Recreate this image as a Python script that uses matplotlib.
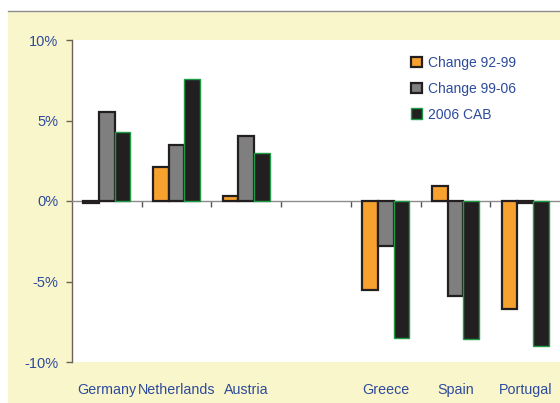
import numpy as np
import matplotlib.pyplot as plt
from matplotlib.patches import Patch, Rectangle
from matplotlib.lines import Line2D
import matplotlib.transforms as mtransforms

plt.rcParams['font.family'] = ['Liberation Sans', 'DejaVu Sans']
plt.rcParams['axes.unicode_minus'] = False

# data (percent of GDP)
countries = ["Germany", "Netherlands", "Austria", "", "Greece", "Spain", "Portugal"]
change_92_99 = [-0.1, 2.1, 0.3, np.nan, -5.5, 0.95, -6.7]
change_99_06 = [5.5, 3.45, 4.05, np.nan, -2.8, -5.9, -0.1]
cab_2006 = [4.3, 7.6, 3.0, np.nan, -8.5, -8.6, -9.0]
series_names = ["Change 92-99", "Change 99-06", "2006 CAB"]
yticks = [-10, -5, 0, 5, 10]

text_blue = "#2D4B9B"
bg_yellow = "#FAF6CB"
dark = "#231F20"

fig = plt.figure(figsize=(5.6, 4.03), dpi=100)
fig.patch.set_facecolor("white")

# yellow backdrop + thin top rule
fig.patches.append(Rectangle((8 / 560, 0), 1 - 8 / 560, 1 - 11 / 403,
                             transform=fig.transFigure, facecolor=bg_yellow,
                             edgecolor="none", zorder=-2))
fig.lines.append(Line2D([8 / 560, 1], [1 - 11 / 403, 1 - 11 / 403],
                        transform=fig.transFigure, color="#8C8C8C", lw=1.0,
                        zorder=-1))

ax = fig.add_axes([72 / 560, 1 - 362 / 403, 1 - 72 / 560, 322 / 403])
ax.set_facecolor("white")

x = np.arange(len(countries))
w = 0.225
ax.bar(x - w, change_92_99, w, color="#F7A12F", edgecolor=dark, linewidth=1.6, zorder=3)
ax.bar(x, change_99_06, w, color="#7F7F7F", edgecolor=dark, linewidth=1.6, zorder=3)
ax.bar(x + w, cab_2006, w, color=dark, edgecolor="#1F9A45", linewidth=1.0, zorder=3)

ax.set_xlim(-0.5, len(countries) - 0.5)
ax.set_ylim(-10, 10)

# axis styling
for s in ["top", "right"]:
    ax.spines[s].set_visible(False)
ax.spines["left"].set_color("#6B6257")
ax.spines["left"].set_linewidth(1.0)
ax.spines["bottom"].set_position(("data", 0))
ax.spines["bottom"].set_color("#8C8C8C")
ax.spines["bottom"].set_linewidth(1.0)

ax.set_yticks(yticks)
ax.set_yticklabels([f"{v}%" for v in yticks], color=text_blue, fontsize=10.5)
ax.tick_params(axis="y", length=4, width=1, color="#6B6257", pad=6)

ax.set_xticks(x[:-1] + 0.5)
ax.set_xticklabels([])
ax.tick_params(axis="x", length=4, width=1, color="#555555", direction="out")

trans = mtransforms.blended_transform_factory(ax.transData, ax.transAxes)
for i, name in enumerate(countries):
    ax.text(i, -0.088, name, transform=trans, ha="center", va="center",
            color=text_blue, fontsize=10.3)

handles = [
    Patch(facecolor="#F7A12F", edgecolor=dark, linewidth=1.6),
    Patch(facecolor="#7F7F7F", edgecolor=dark, linewidth=1.6),
    Patch(facecolor=dark, edgecolor="#1F9A45", linewidth=1.0),
]
leg = fig.legend(handles, series_names, loc="upper left",
                 bbox_to_anchor=(411 / 560, 1 - 56 / 403),
                 bbox_transform=fig.transFigure, frameon=False,
                 borderpad=0, borderaxespad=0, handlelength=0.8,
                 handleheight=0.8, handletextpad=0.45, labelspacing=0.85,
                 fontsize=10)
for t in leg.get_texts():
    t.set_color(text_blue)

fig.savefig("out.png", dpi=100)
